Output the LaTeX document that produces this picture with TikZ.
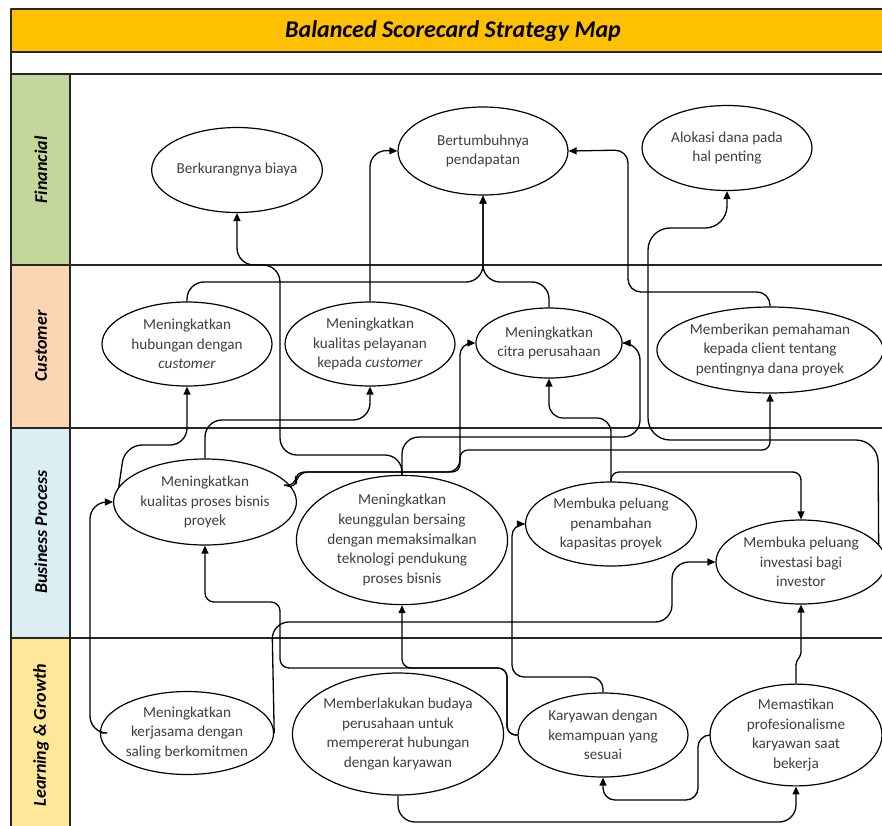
\documentclass[tikz,border=0pt]{standalone}
\usepackage{fontspec}
\setmainfont{Carlito}
\usetikzlibrary{arrows.meta,shapes.geometric}
\definecolor{scoretitle}{HTML}{FFC000}
\definecolor{financialband}{HTML}{C4D79B}
\definecolor{customerband}{HTML}{FCD5B4}
\definecolor{processband}{HTML}{DAEEF3}
\definecolor{growthband}{HTML}{FFE699}
\definecolor{goalink}{HTML}{3F3F3F}

\begin{document}
\begin{tikzpicture}[
  x=1pt,
  y=-1pt,
  line join=round,
  grid/.style={draw=black!85,line width=1.5pt},
  goal/.style={ellipse,draw=black,line width=1.2pt,fill=white,inner sep=0pt,
    align=center,text=goalink,font=\fontsize{15.2}{19.6}\selectfont},
  link/.style={draw=black,line width=1.3pt,rounded corners=17pt,
    -{Triangle[length=8pt,width=7pt]}},
  lane/.style={rotate=90,font=\fontsize{18}{20}\selectfont\bfseries\itshape}
]
  \useasboundingbox (0,0) rectangle (882,825);

  % Title bar, with the empty strip below it.
  \fill[scoretitle] (11,9) rectangle (890,52);
  \node (title) at (453,31) {\fontsize{24}{26}\selectfont\bfseries\itshape Balanced Scorecard Strategy Map};

  % Perspective lanes: coloured label column on the left.
  \fill[financialband] (11,74) rectangle (70,265);
  \fill[customerband] (11,265) rectangle (70,428);
  \fill[processband] (11,428) rectangle (70,638);
  \fill[growthband] (11,638) rectangle (70,830);
  \node[lane] (financial) at (41,170) {Financial};
  \node[lane] (customer) at (41,346) {Customer};
  \node[lane] (business) at (41,532) {Business Process};
  \node[lane] (learning) at (41,735) {Learning \& Growth};

  % Lane borders run off the right and bottom edges.
  \draw[grid] (890,9) -- (11,9) -- (11,830);
  \foreach \y in {52,74,265,428,638} {
    \draw[grid] (11,\y) -- (890,\y);
  }
  \draw[grid] (70,74) -- (70,830);

  % Financial goals.
  \node[goal,minimum width=170pt,minimum height=85pt] (cost) at (237,170) {Berkurangnya biaya};
  \node[goal,minimum width=170pt,minimum height=88pt] (revenue) at (483,151) {Bertumbuhnya\\pendapatan};
  \node[goal,minimum width=170pt,minimum height=85pt] (funds) at (727,148) {Alokasi dana pada\\hal penting};

  % Customer goals.
  \node[goal,minimum width=170pt,minimum height=84pt] (relation) at (187,344) {Meningkatkan\\hubungan dengan\\\textit{customer}};
  \node[goal,minimum width=170pt,minimum height=84pt] (service) at (370,344) {Meningkatkan\\kualitas pelayanan\\kepada \textit{customer}};
  \node[goal,minimum width=142pt,minimum height=70pt] (image) at (549,343) {Meningkatkan\\citra perusahaan};
  \node[goal,minimum width=217pt,minimum height=86pt] (client) at (770,350) {Memberikan pemahaman\\kepada client tentang\\pentingnya dana proyek};

  % Business process goals.
  \node[goal,minimum width=168pt,minimum height=86pt] (process) at (205,502) {Meningkatkan\\kualitas proses bisnis\\proyek};
  \node[goal,minimum width=200pt,minimum height=100pt] (advantage) at (402,540) {Meningkatkan\\keunggulan bersaing\\dengan memaksimalkan\\teknologi pendukung\\proses bisnis};
  \node[goal,minimum width=171pt,minimum height=84pt] (capacity) at (611,524) {Membuka peluang\\penambahan\\kapasitas proyek};
  \node[goal,minimum width=170pt,minimum height=84pt] (invest) at (801,562) {Membuka peluang\\investasi bagi\\investor};

  % Learning and growth goals.
  \node[goal,minimum width=170pt,minimum height=83pt] (teamwork) at (187,733) {Meningkatkan\\kerjasama dengan\\saling berkomitmen};
  \node[goal,minimum width=203pt,minimum height=122pt] (culture) at (398,734) {Memberlakukan budaya\\perusahaan untuk\\mempererat hubungan\\dengan karyawan};
  \node[goal,minimum width=170pt,minimum height=84pt] (skill) at (603,735) {Karyawan dengan\\kemampuan yang\\sesuai};
  \node[goal,minimum width=172pt,minimum height=85pt] (profession) at (796,735) {Memastikan\\profesionalisme\\karyawan saat\\bekerja};

  % Links into the financial goals.
  \draw[link] (advantage.north) -- (402,455) -- (280,455) -- (280,265) -- (237,265) -- (cost.south);
  \draw[link] (service.north) -- (370,150) -- (revenue.west);
  \draw[link] (relation.north) -- (187,282) -- (483,282) -- (revenue.south);
  \draw[link] (image.north) -- (549,282) -- (483,282) -- (revenue.south);
  \draw[link,rounded corners=13pt] (client.north) -- (770,292) -- (628,292) -- (628,150) -- (revenue.east);
  \draw[link,rounded corners=22pt] (invest.13) -- (878,440) -- (648,440) -- (648,228) -- (727,228) -- (funds.south);

  % Links into the customer goals.
  \draw[link] (process.170) -- (125,445) -- (187,445) -- (relation.south);
  \draw[link] (process.north) -- (205,420) -- (370,420) -- (service.south);
  \draw[link,rounded corners=12pt] (process.10) -- (296,488) -- (296,472) -- (460,472) -- (460,343) -- (image.west);
  \draw[link,rounded corners=8pt] (process.10) -- (296,488) -- (296,472) -- (460,472) -- (460,450) -- (770,450) -- (client.south);
  \draw[link] (advantage.north) -- (402,437) -- (640,437) -- (640,343) -- (image.east);
  \draw[link,rounded corners=14pt] (capacity.north) -- (611,418) -- (549,418) -- (image.south);

  % Links inside the business process lane.
  \draw[link,rounded corners=8pt] (capacity.north) -- (611,472) -- (801,472) -- (invest.north);
  \draw[link] (teamwork.west) -- (90,733) -- (90,502) -- (process.west);
  \draw[link] (teamwork.east) -- (272,622) -- (672,622) -- (672,562) -- (invest.west);
  \draw[link,rounded corners=12pt] (skill.north) -- (603,677) -- (512,677) -- (512,524) -- (capacity.west);
  \draw[link,rounded corners=9pt] (skill.west) -- (507,735) -- (507,668) -- (280,668) -- (280,602) -- (205,602) -- (process.south);
  \draw[link,rounded corners=9pt] (skill.west) -- (507,735) -- (507,668) -- (402,668) -- (advantage.south);
  \draw[link,rounded corners=3pt] (profession.north) -- (796,662) -- (801,655) -- (invest.south);

  % Links inside the learning and growth lane.
  \draw[link] (culture.south) -- (398,822) -- (796,822) -- (profession.south);
  \draw[link,rounded corners=12pt] (profession.west) -- (698,735) -- (698,800) -- (603,800) -- (skill.south);
\end{tikzpicture}
\end{document}
